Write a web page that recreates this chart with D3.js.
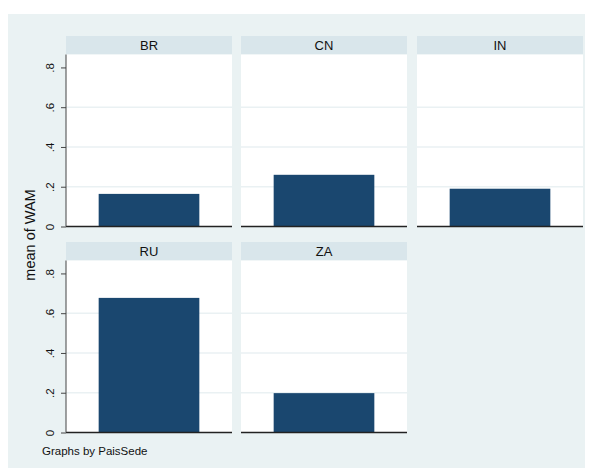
<!DOCTYPE html>
<html>
<head>
<meta charset="utf-8">
<script src="https://cdn.jsdelivr.net/npm/d3@7"></script>
<style>
  body { margin: 0; background: #fff; }
  text { font-family: "Liberation Sans", Arial, sans-serif; fill: #111; }
</style>
</head>
<body>
<svg id="chart" width="595" height="468"></svg>
<script>
// data
const countries = ["BR", "CN", "IN", "RU", "ZA"];
const meanWAM = [0.164, 0.26, 0.19, 0.677, 0.198];
const yTicks = [0, 0.2, 0.4, 0.6, 0.8];
const gridTicks = [0.2, 0.4, 0.6];
const yMax = 0.865;

const width = 595;
const height = 468;
const colLeft = [66, 241, 417];
const panelW = 166;
const rowTop = [36, 242];
const stripH = 18.5;
const plotH = 172;

const svg = d3.select("#chart");

// outer graph region
svg.append("rect")
  .attr("x", 8).attr("y", 14)
  .attr("width", 577).attr("height", 454)
  .style("fill", "#eaf2f3");

const panels = countries.map((c, i) => ({
  name: c,
  value: meanWAM[i],
  col: i % 3,
  row: Math.floor(i / 3)
}));

const y = d3.scaleLinear().domain([0, yMax]).range([plotH, 0]);
const x = d3.scaleBand().domain(["v"]).range([0, panelW]).paddingInner(0.245).paddingOuter(0.245);

panels.forEach(p => {
  let g = svg.append("g")
    .attr("transform", `translate(${colLeft[p.col]},${rowTop[p.row]})`);

  //strip
  g.append("rect")
    .attr("width", panelW).attr("height", stripH)
    .style("fill", "#d9e6eb");
  g.append("text")
    .attr("x", panelW / 2).attr("y", stripH / 2 + 4.5)
    .attr("text-anchor", "middle")
    .attr("font-size", 13)
    .text(p.name);

  let plot = g.append("g").attr("transform", `translate(0,${stripH})`);

  plot.append("rect")
    .attr("width", panelW).attr("height", plotH)
    .style("fill", "#fff");

  //grid
  plot.selectAll(".grid")
    .data(gridTicks)
    .enter().append("line")
      .attr("x1", 0).attr("x2", panelW)
      .attr("y1", d => y(d)).attr("y2", d => y(d))
      .style("stroke", "#eaf1f3")
      .style("stroke-width", 1.5);

  //bar
  plot.append("rect")
    .attr("x", x("v"))
    .attr("width", x.bandwidth())
    .attr("y", y(p.value))
    .attr("height", plotH - y(p.value))
    .style("fill", "#1a476f");

  //bottom axis line
  plot.append("line")
    .attr("x1", 0).attr("x2", panelW)
    .attr("y1", plotH).attr("y2", plotH)
    .style("stroke", "#222")
    .style("stroke-width", 1.3);

  //left axis only in first column
  if (p.col === 0) {
    let axis = d3.axisLeft(y)
      .tickValues(yTicks)
      .tickSize(5)
      .tickPadding(4)
      .tickFormat(d => d === 0 ? "0" : d3.format(".1f")(d).replace(/^0/, ""));
    let ax = plot.append("g").call(axis);
    ax.select(".domain").attr("d", `M0,0V${plotH}`).style("stroke", "#444");
    ax.selectAll(".tick line").style("stroke", "#444");
    ax.selectAll(".tick text")
      .attr("font-size", 11.5)
      .attr("font-family", "Liberation Sans, Arial, sans-serif")
      .attr("fill", "#111")
      .attr("x", null).attr("dy", null)
      .attr("text-anchor", "middle")
      .attr("transform", "translate(-12,0) rotate(-90)");
  }
});

//y title
svg.append("text")
  .attr("transform", "translate(35,235) rotate(-90)")
  .attr("text-anchor", "middle")
  .attr("font-size", 14.5)
  .text("mean of WAM");

//note
svg.append("text")
  .attr("x", 42).attr("y", 455)
  .attr("font-size", 11.5)
  .text("Graphs by PaisSede");
</script>
</body>
</html>
